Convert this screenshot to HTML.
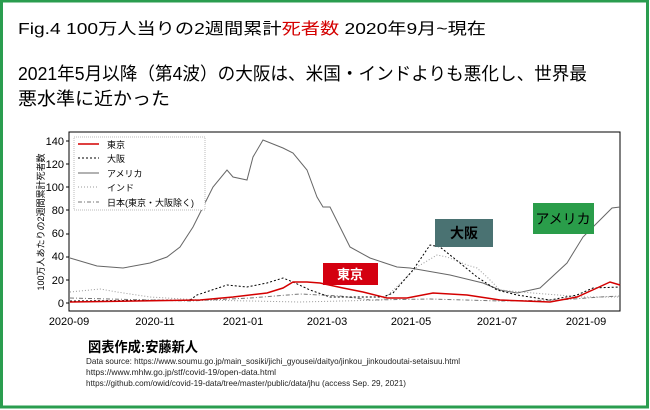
<!DOCTYPE html>
<html><head><meta charset="utf-8"><style>
html,body{margin:0;padding:0;background:#fff}
svg{display:block}
text{font-family:"Liberation Sans","Noto Sans CJK JP",sans-serif}
</style></head><body>
<svg width="650" height="410" viewBox="0 0 650 410" xmlns="http://www.w3.org/2000/svg">
<rect x="0" y="0" width="650" height="410" fill="#fff"/>
<rect x="1.5" y="1" width="646" height="406" fill="none" stroke="#2a9d4f" stroke-width="3"/>
<text x="18" y="34" font-size="16" textLength="468" lengthAdjust="spacingAndGlyphs">Fig.4 100万人当りの2週間累計<tspan fill="#d40000">死者数</tspan>  2020年9月~現在</text>
<text x="18" y="80" font-size="18" textLength="569" lengthAdjust="spacingAndGlyphs">2021年5月以降（第4波）の大阪は、米国・インドよりも悪化し、世界最</text>
<text x="18" y="105" font-size="18" textLength="152" lengthAdjust="spacingAndGlyphs">悪水準に近かった</text>
<!-- axes -->
<rect x="69" y="132" width="551" height="179" fill="none" stroke="#000" stroke-width="1"/>
<g font-size="11" text-anchor="end" fill="#000">
<text x="64" y="307">0</text><text x="64" y="284">20</text><text x="64" y="260">40</text><text x="64" y="237">60</text><text x="64" y="214">80</text><text x="64" y="191">100</text><text x="64" y="168">120</text><text x="64" y="145">140</text>
</g>
<g stroke="#000"><line x1="66" y1="303" x2="69" y2="303"/><line x1="66" y1="280" x2="69" y2="280"/><line x1="66" y1="257" x2="69" y2="257"/><line x1="66" y1="234" x2="69" y2="234"/><line x1="66" y1="210" x2="69" y2="210"/><line x1="66" y1="187" x2="69" y2="187"/><line x1="66" y1="164" x2="69" y2="164"/><line x1="66" y1="141" x2="69" y2="141"/></g>
<g font-size="11" text-anchor="middle">
<text x="69" y="325">2020-09</text><text x="155" y="325">2020-11</text><text x="243" y="325">2021-01</text><text x="327" y="325">2021-03</text><text x="411" y="325">2021-05</text><text x="497" y="325">2021-07</text><text x="586" y="325">2021-09</text>
</g>
<text transform="translate(44,222) rotate(-90)" font-size="9" text-anchor="middle">100万人あたりの2週間累計死者数</text>
<!-- series -->
<g fill="none" stroke-width="1">
<polyline stroke="#666" points="70,258 97,266 123,268 150,263 167,257 180,247 193,227 203,207 213,187 227,170 233,177 247,180 253,157 263,140 283,148 293,153 307,170 317,197 323,207 330,207 350,247 370,258 397,267 410,268 450,275 483,283 500,290 517,293 540,288 567,263 583,237 600,220 612,208 620,207"/>
<polyline stroke="#999" stroke-dasharray="1,2" points="70,292 100,289 117,292 150,297 200,300 300,302 383,300 417,267 437,255 447,257 467,265 477,268 487,277 500,290 533,293 583,297 620,297"/>
<polyline stroke="#777" stroke-dasharray="4,2,1,2" points="70,298 190,301 250,298 300,294 340,296 370,300 430,299 500,301 560,300 600,297 620,296"/>
<polyline stroke="#000" stroke-dasharray="2,2" points="70,301 190,300 197,295 227,285 247,287 267,283 283,278 293,282 310,290 330,297 383,297 393,293 413,270 430,245 440,247 460,263 477,277 497,290 517,295 550,300 577,295 593,288 620,287"/>
<polyline stroke="#d40000" stroke-width="1.5" points="70,302 200,300 233,297 267,293 283,288 293,282 307,282 320,283 343,288 363,292 387,298 407,298 433,293 467,295 500,300 550,302 577,297 597,288 610,282 620,285"/>
</g>
<!-- legend -->
<rect x="74" y="137" width="131" height="73" fill="#fff" stroke="#bbb" stroke-dasharray="1,1"/>
<g fill="none">
<line x1="78" y1="144" x2="99" y2="144" stroke="#d40000" stroke-width="1.5"/>
<line x1="78" y1="158" x2="99" y2="158" stroke="#000" stroke-dasharray="2,2"/>
<line x1="78" y1="173" x2="99" y2="173" stroke="#666"/>
<line x1="78" y1="187" x2="99" y2="187" stroke="#999" stroke-dasharray="1,2"/>
<line x1="78" y1="202" x2="99" y2="202" stroke="#777" stroke-dasharray="4,2,1,2"/>
</g>
<g font-size="9">
<text x="107" y="148">東京</text><text x="107" y="162">大阪</text><text x="107" y="177">アメリカ</text><text x="107" y="191">インド</text><text x="107" y="206">日本(東京・大阪除く)</text>
</g>
<!-- annotations -->
<rect x="323" y="263" width="55" height="22" fill="#d40010"/>
<text x="350" y="279" font-size="13" fill="#fff" text-anchor="middle" font-weight="bold">東京</text>
<rect x="435" y="219" width="58" height="28" fill="#4a7272"/>
<text x="464" y="238" font-size="14" fill="#000" text-anchor="middle" font-weight="bold">大阪</text>
<rect x="533" y="203" width="61" height="31" fill="#2a9d4a"/>
<text x="563" y="224" font-size="14" fill="#000" text-anchor="middle">アメリカ</text>
<!-- footer -->
<text x="88" y="352" font-size="14" font-weight="bold" textLength="110" lengthAdjust="spacingAndGlyphs">図表作成:安藤新人</text>
<g font-size="8.5" fill="#222">
<text x="86" y="364" textLength="374" lengthAdjust="spacingAndGlyphs">Data source: https://www.soumu.go.jp/main_sosiki/jichi_gyousei/daityo/jinkou_jinkoudoutai-setaisuu.html</text>
<text x="86" y="375" textLength="190" lengthAdjust="spacingAndGlyphs">https://www.mhlw.go.jp/stf/covid-19/open-data.html</text>
<text x="86" y="386" textLength="320" lengthAdjust="spacingAndGlyphs">https://github.com/owid/covid-19-data/tree/master/public/data/jhu (access Sep. 29, 2021)</text>
</g>
</svg>
</body></html>
